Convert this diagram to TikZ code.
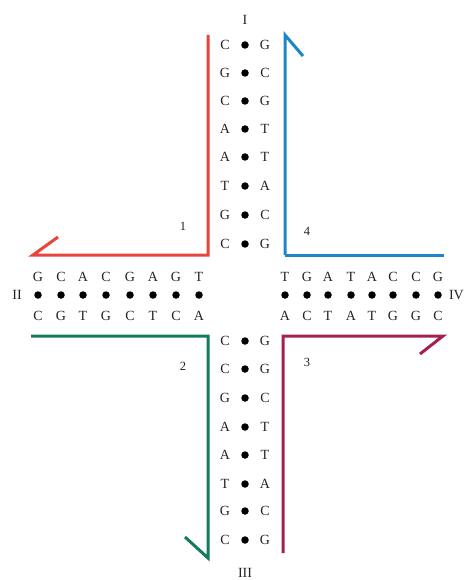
\documentclass[tikz,border=0pt]{standalone}
\usepackage{fontspec}
\setmainfont{Liberation Serif}
\definecolor{cred}{RGB}{232,68,58}
\definecolor{cblue}{RGB}{30,134,198}
\definecolor{cgreen}{RGB}{22,122,96}
\definecolor{cmaroon}{RGB}{164,32,82}
\definecolor{ctext}{RGB}{35,35,35}
\tikzset{
  base/.style={font=\fontsize{14}{16}\selectfont, text=ctext, inner sep=0pt, anchor=center},
  bdot/.style={circle, fill=black, minimum size=7.5pt, inner sep=0pt},
  strand/.style={line width=3pt, line join=miter},
  roman/.style={font=\fontsize{14}{16}\selectfont, text=ctext, inner sep=0pt},
  num/.style={font=\fontsize{12.5}{14}\selectfont, text=ctext, inner sep=0pt}
}
\begin{document}
\begin{tikzpicture}[x=1pt,y=-1pt]
\useasboundingbox (0,0) rectangle (465,580);
% top arm
\foreach \l/\r/\y [count=\i] in {C/G/45,G/C/73,C/G/101,A/T/129,A/T/157,T/A/186,G/C/215,C/G/244}{
  \node[base] (tl\i) at (225,\y) {\l};
  \node[bdot] (td\i) at (245,\y) {};
  \node[base] (tr\i) at (265,\y) {\r};
}
% bottom arm
\foreach \l/\r/\y [count=\i] in {C/G/341,C/G/369,G/C/398,A/T/427,A/T/455,T/A/484,G/C/511,C/G/540}{
  \node[base] (bl\i) at (225,\y) {\l};
  \node[bdot] (bd\i) at (245,\y) {};
  \node[base] (br\i) at (265,\y) {\r};
}
% left arm
\foreach \t/\b/\x [count=\i] in {G/C/38,C/G/61,A/T/83,C/G/106,G/C/130,A/T/153,G/C/176,T/A/199}{
  \node[base] (lt\i) at (\x,277) {\t};
  \node[bdot] (ld\i) at (\x,295) {};
  \node[base] (lb\i) at (\x,316) {\b};
}
% right arm
\foreach \t/\b/\x [count=\i] in {T/A/285,G/C/307,A/T/328,T/A/351,A/T/372,C/G/393,C/G/416,G/C/438}{
  \node[base] (rt\i) at (\x,277) {\t};
  \node[bdot] (rd\i) at (\x,295) {};
  \node[base] (rb\i) at (\x,316) {\b};
}
% roman labels
\node[roman] (I) at (245,20) {I};
\node[roman] (II) at (17,295) {II};
\node[roman] (III) at (245,573) {III};
\node[roman, anchor=east] (IV) at (464,295) {IV};
% numbers
\node[num] (n1) at (183,226) {1};
\node[num] (n4) at (307,231) {4};
\node[num] (n2) at (183,366) {2};
\node[num] (n3) at (307,362) {3};
% strands
\draw[strand, cred] (208,35) -- (208,255) -- (33,255) -- (58,237);
\draw[strand, cblue] (285,255) -- (285,35) -- (303,56);
\draw[strand, cblue] (285,255) -- (444,255);
\draw[strand, cgreen] (31,336) -- (208,336) -- (208,558) -- (185,537);
\draw[strand, cmaroon] (283,553) -- (283,336) -- (443,336) -- (420,354);
\end{tikzpicture}
\end{document}
